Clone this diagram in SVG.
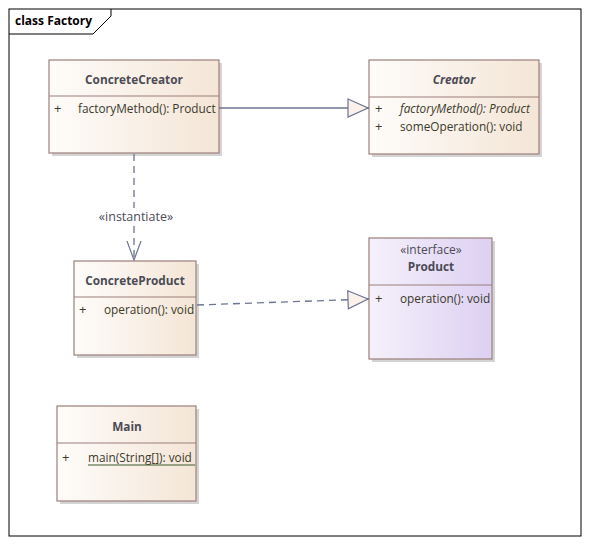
<svg xmlns="http://www.w3.org/2000/svg" width="590" height="544" viewBox="0 0 590 544">
<defs>
<linearGradient id="gC" x1="0" y1="0" x2="1" y2="0"><stop offset="0" stop-color="#fefcfa"/><stop offset="1" stop-color="#f4e5d6"/></linearGradient>
<linearGradient id="gI" x1="0" y1="0" x2="1" y2="0"><stop offset="0" stop-color="#f5f1fb"/><stop offset="1" stop-color="#ddd0f2"/></linearGradient>
<marker id="tri" viewBox="0 0 22 20" refX="22" refY="10" markerWidth="22" markerHeight="20" markerUnits="userSpaceOnUse" orient="auto"><path d="M1,1 L21,10 L1,19 Z" fill="#fbf0ea" stroke="#6d7590" stroke-width="1.2"/></marker>
<marker id="open" viewBox="0 0 20 20" refX="10" refY="19" markerWidth="20" markerHeight="20" markerUnits="userSpaceOnUse" orient="0"><path d="M3,0 L10,19 L17,0" fill="none" stroke="#6d7590" stroke-width="1.2"/></marker>
</defs>
<style>
.box{stroke:#9b7f7a;stroke-width:1.2}
.sh{fill:#d4d4d4}
.cls{fill:url(#gC)}
.ifc{fill:url(#gI)}
.div{stroke:#9b7f7a;stroke-width:1}
text{font-family:"Open Sans","Noto Sans",sans-serif;font-size:11.8px}
.t{font-weight:bold;fill:#4b4b55;text-anchor:middle;font-size:11.8px}
.a{fill:#3a3a2a}
.p{fill:#3a3a2a;font-size:13px}
.it{font-style:italic}
.con{stroke:#6d7590;stroke-width:1.3;fill:none}
.dash{stroke-dasharray:7,5}
</style>
<rect width="590" height="544" fill="#ffffff"/>
<g id="frame">
<rect x="9" y="9" width="572" height="527" fill="none" stroke="#000" stroke-width="1"/>
<path d="M9,34 L93,34 L111,16 L111,9" fill="none" stroke="#000" stroke-width="1"/>
<text x="15" y="25" style="font-weight:bold;font-size:12px;fill:#000">class Factory</text>
</g>
<g id="ConcreteCreator">
<rect class="sh" x="52" y="63" width="170" height="93"/>
<rect class="box cls" x="49" y="60" width="170" height="93"/>
<line class="div" x1="49" y1="96" x2="219" y2="96"/>
<text class="t" x="134" y="84">ConcreteCreator</text>
<text class="p" x="54" y="113">+</text>
<text class="a" x="78" y="113">factoryMethod(): Product</text>
</g>
<g id="Creator">
<rect class="sh" x="372" y="63" width="170" height="94"/>
<rect class="box cls" x="369" y="60" width="170" height="94"/>
<line class="div" x1="369" y1="97" x2="539" y2="97"/>
<text class="t it" x="454" y="84">Creator</text>
<text class="p" x="375" y="113">+</text>
<text class="a it" x="400" y="113">factoryMethod(): Product</text>
<text class="p" x="375" y="131">+</text>
<text class="a" x="400" y="131">someOperation(): void</text>
</g>
<g id="ConcreteProduct">
<rect class="sh" x="77" y="264" width="122" height="94"/>
<rect class="box cls" x="74" y="261" width="122" height="94"/>
<line class="div" x1="74" y1="297" x2="196" y2="297"/>
<text class="t" x="135" y="285">ConcreteProduct</text>
<text class="p" x="79" y="314">+</text>
<text class="a" x="104" y="314">operation(): void</text>
</g>
<g id="Product">
<rect class="sh" x="372" y="241" width="123" height="121"/>
<rect class="box ifc" x="369" y="238" width="123" height="121"/>
<line class="div" x1="369" y1="285" x2="492" y2="285"/>
<text x="431" y="254" text-anchor="middle" style="fill:#4b4b55;font-size:12px">«interface»</text>
<text class="t" x="431" y="271">Product</text>
<text class="p" x="375" y="303">+</text>
<text class="a" x="400" y="303">operation(): void</text>
</g>
<g id="Main">
<rect class="sh" x="60" y="409" width="139" height="95"/>
<rect class="box cls" x="57" y="406" width="139" height="95"/>
<line class="div" x1="57" y1="443" x2="196" y2="443"/>
<text class="t" x="127" y="431">Main</text>
<text class="p" x="62" y="462">+</text>
<text class="a" x="88" y="462">main(String[]): void</text>
<line x1="88" y1="465" x2="195" y2="465" stroke="#3a5a2a" stroke-width="1"/>
</g>
<g id="connectors">
<line class="con" x1="219" y1="108" x2="369" y2="108" marker-end="url(#tri)"/>
<line class="con dash" x1="134" y1="154" x2="134" y2="260" marker-end="url(#open)"/>
<rect x="96" y="208" width="78" height="16" fill="#ffffff"/>
<text x="136" y="221" text-anchor="middle" style="fill:#4b4b55;font-size:12.5px">«instantiate»</text>
<line class="con dash" x1="197" y1="305" x2="369" y2="299" marker-end="url(#tri)"/>
</g>
</svg>
